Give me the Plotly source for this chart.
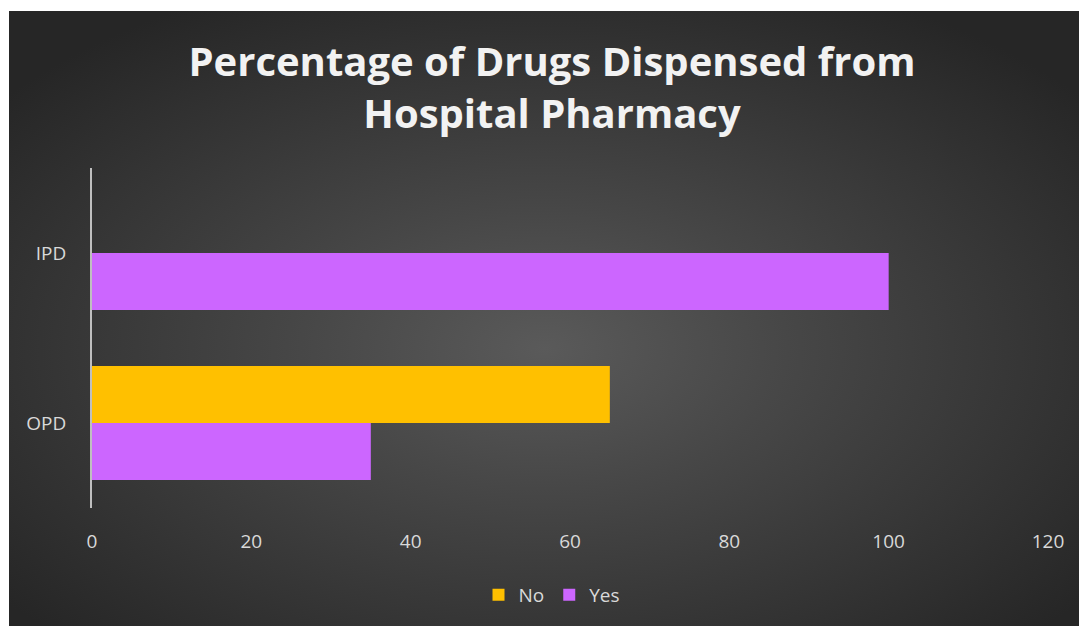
import plotly.graph_objects as go
import base64

categories = ["IPD", "OPD"]
no_values = [0, 65]
yes_values = [100, 35]
x_ticks = [0, 20, 40, 60, 80, 100, 120]

W, H = 1079, 626
L, R, T, B = 92, 31, 168, 118
PW, PH = W - L - R, H - T - B

svg = f'''<svg xmlns="http://www.w3.org/2000/svg" width="1070" height="615" viewBox="0 0 1070 615">
<defs><radialGradient id="g" cx="0.5" cy="0.55" r="0.65" gradientUnits="objectBoundingBox">
<stop offset="0" stop-color="#5a5a5a"/><stop offset="0.35" stop-color="#474747"/><stop offset="1" stop-color="#262626"/></radialGradient></defs>
<rect width="1070" height="615" fill="url(#g)"/></svg>'''
src = "data:image/svg+xml;base64," + base64.b64encode(svg.encode()).decode()

fig = go.Figure()
fig.add_trace(go.Bar(y=categories, x=no_values, name="No", orientation="h",
                     marker=dict(color="#FFC000", line=dict(width=0))))
fig.add_trace(go.Bar(y=categories, x=yes_values, name="Yes", orientation="h",
                     marker=dict(color="#CC66FF", line=dict(width=0))))

fig.update_layout(
    width=W, height=H,
    paper_bgcolor="white", plot_bgcolor="rgba(0,0,0,0)",
    margin=dict(l=L, r=R, t=T, b=B),
    barmode="group", bargap=0.33, bargroupgap=0,
    title=dict(text="Percentage of Drugs Dispensed from<br>Hospital Pharmacy",
               x=552 / W, xanchor="center", y=1 - 76 / H, yanchor="middle",
               font=dict(family="Open Sans", size=40, color="#f2f2f2", weight="bold")),
    font=dict(family="Open Sans", color="#d9d9d9", size=19),
    xaxis=dict(range=[0, 120], tickvals=x_ticks, showgrid=False, zeroline=False,
               showline=False, ticks="", ticklabelstandoff=20,
               tickfont=dict(size=19, color="#d9d9d9")),
    yaxis=dict(categoryorder="array", categoryarray=categories, autorange="reversed",
               showgrid=False, zeroline=False, showline=True, linecolor="#bfbfbf",
               linewidth=2, ticks="", ticklabelstandoff=20,
               tickfont=dict(size=19, color="#d9d9d9")),
    legend=dict(orientation="h", x=(552 - L) / PW, xanchor="center",
                y=(H - B - 595) / PH, yanchor="middle",
                font=dict(size=19, color="#d9d9d9"),
                bgcolor="rgba(0,0,0,0)", itemwidth=30, tracegroupgap=0),
    images=[dict(source=src, xref="paper", yref="paper",
                 x=(9 - L) / PW, y=1 + (T - 11) / PH,
                 sizex=(W - 9) / PW, sizey=(H - 11) / PH,
                 xanchor="left", yanchor="top", sizing="stretch", layer="below")],
)

fig.write_html("out.html")
